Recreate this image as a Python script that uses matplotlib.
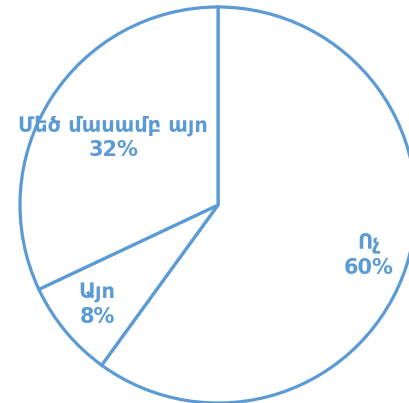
import matplotlib
matplotlib.use("Agg")
import matplotlib.pyplot as plt

categories = ["Ոչ", "Այո", "Մեծ մասամբ այո"]
values = [60, 8, 32]
label_pos = [(0.763, -0.258), (-0.611, -0.505), (-0.530, 0.338)]

color = "#5B9BD5"

fig = plt.figure(figsize=(4.10, 4.03), dpi=100)
ax = fig.add_axes([0, 0, 1, 1])
ax.pie(values, startangle=90, counterclock=False, radius=1,
       colors=["white"] * len(values),
       wedgeprops=dict(edgecolor=color, linewidth=2.3))
ax.set_aspect("auto")
ax.set_xlim(-218 / 198, (410 - 218) / 198)
ax.set_ylim(-198 / 198, 205 / 198)
ax.axis("off")

total = sum(values)
for cat, v, (x, y) in zip(categories, values, label_pos):
    ax.text(x, y, f"{cat}\n{round(v / total * 100)}%", ha="center", va="center",
            fontsize=15, fontweight="bold", color=color, linespacing=1.25,
            family=["DejaVu Sans"])

fig.savefig("out.png", dpi=100)
